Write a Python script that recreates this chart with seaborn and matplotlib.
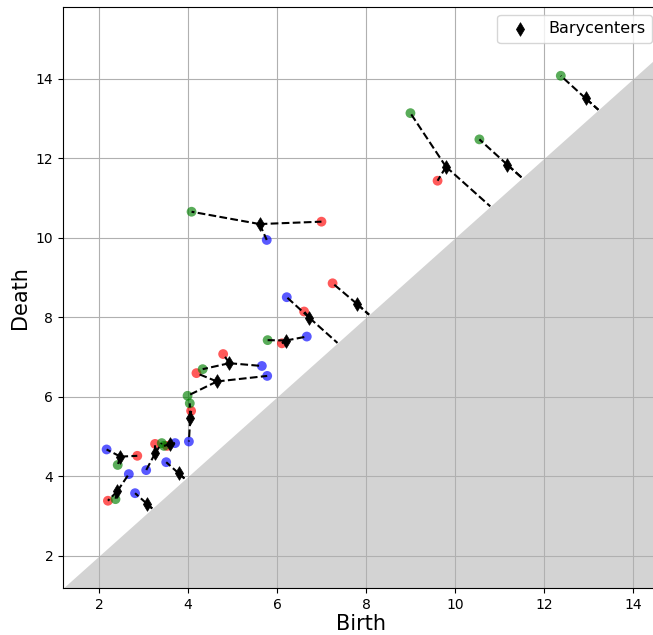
import numpy as np
import pandas as pd
import matplotlib
matplotlib.use("Agg")
import matplotlib.pyplot as plt
import seaborn as sns

# Three persistence diagrams (birth, death)
red_birth = [2.86, 2.20, 3.26, 3.53, 4.07, 4.19, 4.79, 6.11, 6.61, 7.25, 7.00, 9.61]
red_death = [4.52, 3.39, 4.82, 4.77, 5.65, 6.60, 7.08, 7.35, 8.15, 8.86, 10.41, 11.44]

green_birth = [2.42, 2.37, 3.41, 3.46, 4.04, 3.99, 4.33, 5.79, 4.08, 9.00, 10.55, 12.38]
green_death = [4.29, 3.43, 4.84, 4.77, 5.84, 6.03, 6.70, 7.43, 10.66, 13.14, 12.48, 14.08]

blue_birth = [2.17, 2.67, 2.81, 3.06, 3.51, 3.71, 4.02, 5.66, 5.78, 6.67, 6.22, 5.77]
blue_death = [4.68, 4.06, 3.58, 4.16, 4.36, 4.84, 4.88, 6.78, 6.53, 7.52, 8.51, 9.95]

# Barycenter diagram
bary_birth = [2.48, 2.41, 3.07, 3.26, 3.79, 3.59, 4.05, 4.65, 4.93, 6.20, 6.73, 7.80, 5.61, 9.80, 11.18, 12.94]
bary_death = [4.50, 3.63, 3.32, 4.58, 4.08, 4.81, 5.46, 6.39, 6.85, 7.42, 7.99, 8.34, 10.35, 11.79, 11.84, 13.51]

# Optimal matching: for each barycenter point, index in the red, green, blue
# diagrams (-1 means matched to the diagonal)
match_red = [0, 1, -1, 2, -1, 3, 4, 5, 6, 7, 8, 9, 10, 11, -1, -1]
match_green = [0, 1, -1, 2, -1, 3, 4, 5, 6, 7, -1, -1, 8, 9, 10, 11]
match_blue = [0, 1, 2, 3, 4, 5, 6, 8, 7, 9, 10, -1, 11, -1, -1, -1]

x_lim = (1.19, 14.61)
y_lim = (1.195, 15.81)

W, H = 653, 635
fig = plt.figure(figsize=(W / 100, H / 100), dpi=100)
ax = fig.add_axes([63 / W, (H - 588) / H, (660 - 63) / W, (588 - 7) / H])

# shaded region below the diagonal
xs = np.array([x_lim[0], x_lim[1]])
ax.fill_between(xs, y_lim[0], xs, color="lightgrey", zorder=1, linewidth=0)

diagrams = [
    ("red", red_birth, red_death, match_red),
    ("green", green_birth, green_death, match_green),
    ("blue", blue_birth, blue_death, match_blue),
]

frames = []
for name, b, d, _ in diagrams:
    frames.append(pd.DataFrame({"birth": b, "death": d, "diagram": name}))
pts = pd.concat(frames, ignore_index=True)

sns.scatterplot(data=pts, x="birth", y="death", hue="diagram",
                palette={"red": "r", "green": "g", "blue": "b"},
                s=50, alpha=0.65, edgecolor="none", legend=False,
                ax=ax, zorder=2)

# dashed matching segments
for name, b, d, match in diagrams:
    for k, j in enumerate(match):
        yb, yd = bary_birth[k], bary_death[k]
        if j >= 0:
            tx, ty = b[j], d[j]
        else:
            tx = ty = (yb + yd) / 2
        ax.plot([yb, tx], [yd, ty], color="black", linestyle="dashed",
                linewidth=1.5, zorder=3)

bary = pd.DataFrame({"birth": bary_birth, "death": bary_death})
sns.scatterplot(data=bary, x="birth", y="death", color="black", marker="d",
                s=48, edgecolor="black", linewidth=0.5, ax=ax, zorder=4,
                label="Barycenters")

ax.set_xlim(*x_lim)
ax.set_ylim(*y_lim)
ax.set_xticks([2, 4, 6, 8, 10, 12, 14])
ax.set_yticks([2, 4, 6, 8, 10, 12, 14])
ax.tick_params(labelsize=10)
ax.grid(True, color="#b0b0b0", linewidth=0.8)
ax.set_xlabel("Birth", fontsize=15, labelpad=2)
ax.set_ylabel("Death", fontsize=15)
ax.legend(loc="upper right", fontsize=11.5)

fig.savefig("out.png", dpi=100)
